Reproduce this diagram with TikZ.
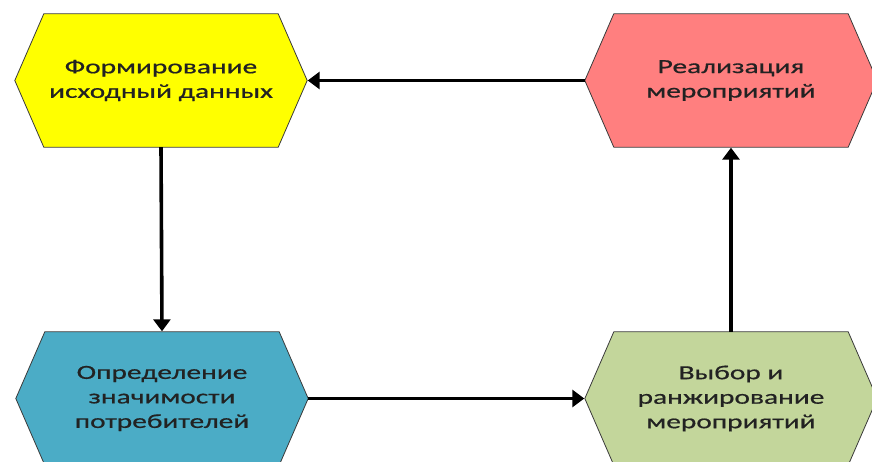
\documentclass[tikz,border=0pt]{standalone}
\usepackage{fontspec}
\setmainfont{Carlito}[FakeStretch=1.47,FakeBold=0.6]
\usetikzlibrary{arrows.meta,backgrounds}
\definecolor{hexyellow}{HTML}{FFFF00}
\definecolor{hexred}{HTML}{FF7F7F}
\definecolor{hexblue}{HTML}{4BACC6}
\definecolor{hexgreen}{HTML}{C3D69B}
\definecolor{hexborder}{HTML}{3A3A3A}
\definecolor{hextext}{HTML}{222222}
\tikzset{
  hexnode/.style={minimum width=292pt, minimum height=133pt, inner sep=0pt,
    align=center, text=hextext, font=\fontsize{20}{24.5}\selectfont},
  hexpath/.style={draw=hexborder, line width=0.8pt},
  flow/.style={draw=black, line width=3.6pt, -{Triangle[length=12pt,width=17pt]}, shorten >=0.5pt}
}
\newcommand{\hexshape}[2]{%
  \path[hexpath, fill=#2] ([xshift=29pt]#1.north west) -- ([xshift=-29pt]#1.north east)
    -- (#1.east) -- ([xshift=-29pt]#1.south east) -- ([xshift=29pt]#1.south west)
    -- (#1.west) -- cycle;}
\begin{document}
\begin{tikzpicture}[x=1pt,y=1pt]
\useasboundingbox (0,0) rectangle (872,461);
\node[hexnode] (Y) at (161,380.5) {Формирование\\исходный данных};
\node[hexnode] (R) at (731,380.5) {Реализация\\мероприятий};
\node[hexnode] (B) at (162,62.5) {Определение\\значимости\\потребителей};
\node[hexnode] (G) at (731,62.5) {Выбор и\\ранжирование\\мероприятий};
\begin{scope}[on background layer]
\hexshape{Y}{hexyellow}
\hexshape{R}{hexred}
\hexshape{B}{hexblue}
\hexshape{G}{hexgreen}
\end{scope}
\draw[flow] (R.west) -- (Y.east);
\draw[flow] (Y.south) -- (B.north);
\draw[flow] (B.east) -- (G.west);
\draw[flow] (G.north) -- (R.south);
\end{tikzpicture}
\end{document}
